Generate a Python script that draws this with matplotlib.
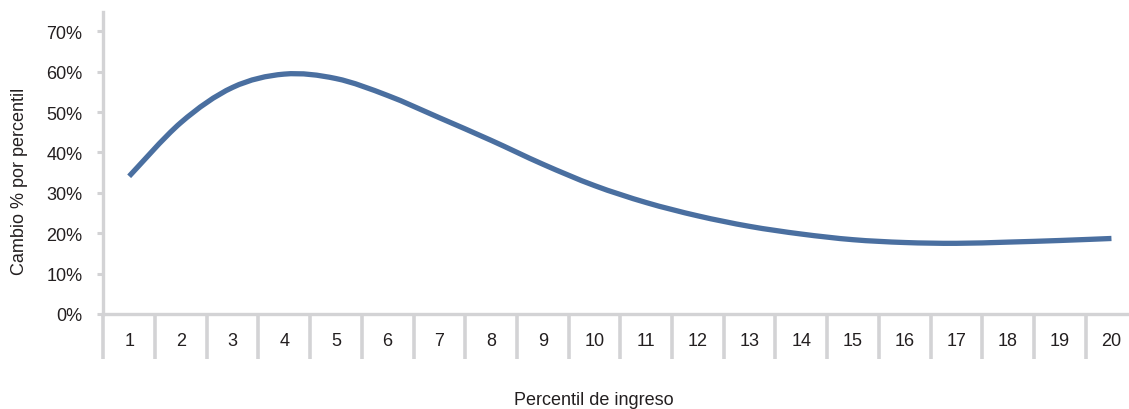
import matplotlib
matplotlib.use("Agg")
import matplotlib.pyplot as plt
from matplotlib.path import Path
from matplotlib.patches import PathPatch
from matplotlib.ticker import FuncFormatter, FixedLocator
import numpy as np

# ---- data ----
categories = [str(i) for i in range(1, 21)]
values = [0.341, 0.474, 0.561, 0.594, 0.583, 0.541, 0.486, 0.430, 0.371, 0.318,
          0.276, 0.243, 0.217, 0.198, 0.184, 0.177, 0.175, 0.178, 0.182, 0.187]
y_ticks = [0.0, 0.1, 0.2, 0.3, 0.4, 0.5, 0.6, 0.7]
y_label = "Cambio % por percentil"
x_label = "Percentil de ingreso"

FONT = ['Liberation Sans Narrow', 'Liberation Sans', 'DejaVu Sans']
plt.rcParams['font.family'] = FONT
TXT = '#231f20'
GRID = '#d3d3d5'
LINE = '#4a6fa0'

W, H = 1129, 410
fig = plt.figure(figsize=(W / 100, H / 100), dpi=100)
left_px, right_px, top_px, bot_px = 103.3, 103.3 + 20 * 51.7, 13, 315
ax = fig.add_axes([left_px / W, (H - bot_px) / H, (right_px - left_px) / W, (bot_px - top_px) / H])

n = len(values)
xs = np.arange(n) + 0.5
ys = np.array(values)

# smoothed line (Catmull-Rom style Bezier through the data points)
verts = [(xs[0], ys[0])]
codes = [Path.MOVETO]
P = list(zip(xs, ys))
for i in range(n - 1):
    p0 = np.array(P[i - 1] if i > 0 else P[i])
    p1 = np.array(P[i])
    p2 = np.array(P[i + 1])
    p3 = np.array(P[i + 2] if i + 2 < n else P[i + 1])
    c1 = p1 + (p2 - p0) / 6.0
    c2 = p2 - (p3 - p1) / 6.0
    verts += [tuple(c1), tuple(c2), tuple(p2)]
    codes += [Path.CURVE4, Path.CURVE4, Path.CURVE4]
ax.add_patch(PathPatch(Path(verts, codes), fill=False, edgecolor=LINE,
                       linewidth=3.8, capstyle='butt', joinstyle='round', zorder=3))

ax.set_xlim(0, n)
ax.set_ylim(0, 0.7 + (32.3 - 13) / 40.4 * 0.1)

for s in ['top', 'right']:
    ax.spines[s].set_visible(False)
for s in ['left', 'bottom']:
    ax.spines[s].set_color(GRID)
    ax.spines[s].set_linewidth(2.4)

ax.set_yticks(y_ticks)
ax.yaxis.set_major_formatter(FuncFormatter(lambda v, p: f"{v*100:.0f}%"))
ax.tick_params(axis='y', length=4.5, width=2.2, color=GRID, pad=10.5,
               labelsize=13, labelcolor=TXT)

# category boundaries as long major ticks, labels as minor ticks at centers
ax.xaxis.set_major_locator(FixedLocator(np.arange(0, n + 1)))
ax.xaxis.set_minor_locator(FixedLocator(xs))
ax.set_xticklabels([], minor=False)
ax.set_xticklabels(categories, minor=True)
ax.tick_params(axis='x', which='major', length=32.5, width=2.6, color=GRID)
ax.tick_params(axis='x', which='minor', length=0, pad=13, labelsize=13, labelcolor=TXT)

fig.text(20 / W, 1 - 181.5 / H, y_label, rotation=90, ha='center', va='center',
         fontsize=13, color=TXT)
fig.text(593.5 / W, 1 - 401 / H, x_label, ha='center', va='center',
         fontsize=13, color=TXT)

fig.savefig("out.png", dpi=100)
